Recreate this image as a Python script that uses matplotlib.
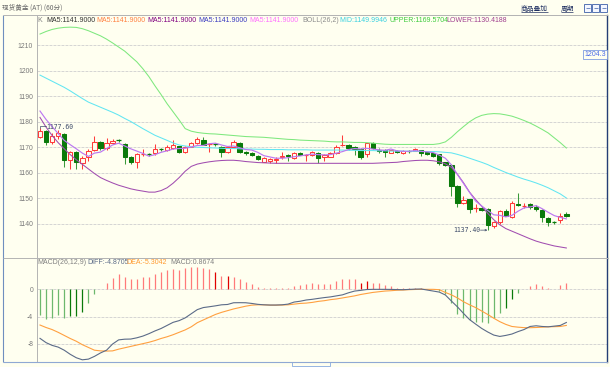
import matplotlib
matplotlib.use("Agg")
import matplotlib.pyplot as plt
from matplotlib.lines import Line2D
from matplotlib.patches import Rectangle

plt.rcParams['font.family'] = ['Liberation Sans', 'Noto Sans CJK SC', 'DejaVu Sans']

W, H = 610, 367
BG = "#FFFFF0"

# ---------------- data ----------------
price_ticks = [1140, 1150, 1160, 1170, 1180, 1190, 1200, 1210]
macd_ticks = [0, -4, -8]

opens = [1174.0, 1176.4, 1172.1, 1174.2, 1175.0, 1164.9, 1168.0, 1163.6, 1166.0, 1168.8,
         1171.8, 1169.5, 1171.4, 1172.7, 1171.2, 1166.2, 1164.2, 1167.2, 1167.3, 1167.5,
         1169.2, 1168.8, 1169.6, 1170.2, 1168.2, 1170.1, 1171.4, 1172.7, 1171.0, 1171.2,
         1170.0, 1168.0, 1170.1, 1171.5, 1168.0, 1167.6, 1166.6, 1164.3, 1164.5, 1164.8,
         1166.0, 1166.8, 1165.8, 1167.6, 1166.7, 1166.9, 1167.5, 1166.2, 1166.2, 1167.5,
         1170.6, 1170.9, 1170.1, 1169.2, 1167.1, 1171.4, 1169.0, 1168.8, 1167.8, 1168.5,
         1167.5, 1168.6, 1168.6, 1168.8, 1168.0, 1167.5, 1167.1, 1164.0, 1163.0, 1154.7,
         1148.2, 1149.6, 1145.8, 1146.0, 1145.7, 1139.1, 1140.5, 1145.0, 1142.7, 1147.8,
         1146.9, 1147.6, 1146.6, 1145.3, 1142.3, 1140.5, 1141.4, 1143.6]
highs = [1177.6, 1176.6, 1175.4, 1176.7, 1175.3, 1168.5, 1168.3, 1166.3, 1169.2, 1174.3,
         1172.2, 1173.4, 1173.3, 1173.0, 1171.5, 1166.5, 1167.8, 1169.2, 1167.8, 1171.2,
         1169.5, 1170.8, 1172.7, 1170.5, 1170.2, 1171.9, 1174.0, 1173.8, 1171.4, 1171.5,
         1170.3, 1170.3, 1172.7, 1171.8, 1168.3, 1168.0, 1166.8, 1166.0, 1165.8, 1166.0,
         1168.2, 1167.4, 1168.0, 1168.0, 1167.3, 1168.3, 1168.0, 1167.2, 1168.2, 1170.8,
         1174.7, 1171.0, 1170.5, 1169.6, 1171.6, 1172.1, 1169.5, 1169.2, 1169.0, 1168.8,
         1168.8, 1169.0, 1169.6, 1169.0, 1168.3, 1167.8, 1167.3, 1164.3, 1163.3, 1155.0,
         1150.8, 1149.8, 1147.6, 1146.6, 1146.0, 1141.0, 1145.3, 1145.5, 1149.0, 1152.1,
         1148.0, 1148.0, 1147.2, 1145.5, 1142.6, 1140.8, 1144.0, 1144.6]
lows = [1173.5, 1170.9, 1171.0, 1173.0, 1162.3, 1161.3, 1161.3, 1161.5, 1164.6, 1168.5,
        1169.0, 1169.0, 1171.0, 1172.0, 1163.2, 1163.2, 1161.6, 1166.4, 1166.3, 1167.0,
        1168.5, 1168.3, 1169.3, 1167.7, 1167.8, 1169.9, 1171.0, 1170.6, 1168.0, 1170.5,
        1166.0, 1167.6, 1169.8, 1167.6, 1167.0, 1166.3, 1164.8, 1164.0, 1163.8, 1163.6,
        1165.3, 1164.6, 1165.4, 1166.8, 1164.7, 1166.5, 1163.6, 1164.6, 1166.0, 1167.2,
        1170.5, 1168.8, 1166.9, 1165.3, 1166.0, 1169.2, 1167.8, 1166.2, 1167.6, 1167.7,
        1167.2, 1167.8, 1168.4, 1166.5, 1166.9, 1166.0, 1163.0, 1162.5, 1150.8, 1146.4,
        1147.8, 1144.0, 1144.6, 1145.0, 1137.4, 1138.1, 1140.0, 1142.8, 1142.3, 1146.8,
        1146.0, 1145.8, 1145.0, 1140.7, 1139.1, 1140.0, 1140.3, 1142.5]
closes = [1176.4, 1172.1, 1174.4, 1175.3, 1164.9, 1168.0, 1164.0, 1165.8, 1168.6, 1171.8,
          1169.6, 1171.4, 1172.4, 1172.5, 1166.0, 1164.2, 1167.1, 1167.5, 1167.0, 1169.1,
          1168.9, 1170.0, 1170.8, 1168.0, 1169.9, 1171.4, 1173.1, 1170.8, 1171.2, 1170.9,
          1168.0, 1169.9, 1171.8, 1168.0, 1167.5, 1166.7, 1165.3, 1165.5, 1165.3, 1165.2,
          1166.5, 1166.4, 1167.5, 1167.0, 1167.0, 1168.0, 1165.6, 1166.9, 1167.5, 1169.9,
          1170.9, 1169.7, 1169.2, 1166.2, 1171.4, 1169.5, 1168.4, 1168.0, 1168.8, 1168.0,
          1168.4, 1168.4, 1169.2, 1167.5, 1167.2, 1166.5, 1163.6, 1163.0, 1154.7, 1148.2,
          1149.2, 1145.7, 1146.1, 1145.3, 1139.4, 1140.5, 1144.9, 1143.1, 1148.2, 1147.3,
          1147.1, 1146.6, 1145.7, 1142.4, 1140.4, 1140.3, 1143.0, 1143.0]

ma5 = [1184.1, 1180.8, 1178.0, 1175.3, 1172.6, 1170.9, 1169.3, 1167.6, 1166.3, 1167.6,
       1168.0, 1169.4, 1170.8, 1171.5, 1170.4, 1169.3, 1168.4, 1167.5, 1166.4, 1167.0,
       1167.9, 1168.5, 1169.2, 1169.4, 1169.5, 1170.0, 1170.6, 1170.6, 1171.3, 1171.5,
       1170.8, 1170.2, 1170.4, 1169.7, 1169.0, 1168.8, 1167.9, 1166.6, 1166.1, 1165.6,
       1165.6, 1165.8, 1166.2, 1166.5, 1166.9, 1167.2, 1167.0, 1166.9, 1167.0, 1167.6,
       1168.2, 1169.0, 1169.4, 1169.2, 1169.5, 1169.2, 1168.9, 1168.7, 1169.2, 1168.5,
       1168.3, 1168.3, 1168.6, 1168.3, 1168.1, 1167.8, 1166.8, 1165.6, 1163.0, 1159.2,
       1155.7, 1152.2, 1148.8, 1146.9, 1145.1, 1143.4, 1143.2, 1142.6, 1143.2, 1144.8,
       1146.1, 1146.5, 1147.0, 1145.8, 1144.4, 1143.1, 1142.4, 1141.8]
boll_upper = [1214.3, 1215.3, 1216.1, 1216.6, 1216.9, 1217.0, 1216.9, 1216.4, 1215.6, 1214.6,
              1213.6, 1212.3, 1210.8, 1209.2, 1207.6, 1205.5, 1203.4, 1200.7, 1197.6, 1194.0,
              1190.6, 1187.0, 1183.8, 1180.6, 1177.2, 1176.2, 1175.7, 1175.4, 1175.2, 1175.1,
              1174.9, 1174.7, 1174.5, 1174.3, 1174.1, 1174.0, 1173.9, 1173.8, 1173.6, 1173.4,
              1173.2, 1173.0, 1172.9, 1172.7, 1172.6, 1172.5, 1172.4, 1172.3, 1172.1, 1172.0,
              1172.0, 1171.9, 1171.8, 1171.8, 1171.7, 1171.5, 1171.3, 1171.1, 1171.0, 1171.0,
              1171.0, 1171.0, 1171.0, 1171.0, 1171.0, 1171.0, 1171.3, 1172.0, 1173.8, 1176.0,
              1178.0, 1179.9, 1181.4, 1182.4, 1182.9, 1183.1, 1183.0, 1182.6, 1182.1, 1181.3,
              1180.4, 1179.4, 1178.2, 1176.9, 1175.5, 1173.6, 1171.7, 1169.6]
boll_mid = [1198.2, 1197.0, 1195.8, 1194.6, 1193.4, 1192.0, 1190.5, 1189.0, 1187.6, 1186.6,
            1185.6, 1184.6, 1183.6, 1182.5, 1181.2, 1180.0, 1178.6, 1177.2, 1175.9, 1174.6,
            1173.6, 1172.6, 1171.6, 1170.8, 1170.4, 1170.1, 1169.9, 1169.8, 1169.7, 1169.6,
            1169.5, 1169.4, 1169.4, 1169.3, 1169.2, 1169.2, 1169.1, 1169.1, 1169.0, 1169.0,
            1169.0, 1168.9, 1168.9, 1168.9, 1168.9, 1168.8, 1168.8, 1168.8, 1168.8, 1168.8,
            1168.8, 1168.7, 1168.7, 1168.6, 1168.6, 1168.6, 1168.5, 1168.5, 1168.4, 1168.4,
            1168.4, 1168.3, 1168.3, 1168.3, 1168.2, 1168.2, 1168.1, 1167.9, 1167.7, 1167.1,
            1166.4, 1165.6, 1164.8, 1164.0, 1163.1, 1162.0, 1161.0, 1160.0, 1159.1, 1158.2,
            1157.4, 1156.7, 1155.9, 1155.0, 1154.0, 1152.8, 1151.6, 1150.0]
boll_lower = [1181.6, 1177.8, 1174.5, 1171.7, 1169.3, 1167.0, 1165.0, 1163.2, 1161.4, 1159.6,
              1158.0, 1156.9, 1155.9, 1155.0, 1154.3, 1153.6, 1153.1, 1152.7, 1152.3, 1152.3,
              1152.9, 1154.0, 1155.8, 1158.0, 1160.5, 1162.4, 1163.3, 1163.8, 1164.2, 1164.5,
              1164.7, 1164.8, 1164.8, 1164.6, 1164.3, 1164.1, 1163.9, 1163.8, 1163.7, 1163.6,
              1163.6, 1163.6, 1163.6, 1163.6, 1163.6, 1163.6, 1163.6, 1163.6, 1163.6, 1163.6,
              1163.6, 1163.6, 1163.6, 1163.6, 1163.6, 1163.6, 1163.7, 1163.8, 1163.9, 1164.0,
              1164.3, 1164.5, 1164.7, 1164.8, 1164.8, 1164.6, 1164.2, 1163.4, 1162.0, 1159.3,
              1156.0, 1152.3, 1149.4, 1146.8, 1144.0, 1141.5, 1139.5, 1138.0, 1137.0, 1136.0,
              1135.0, 1134.0, 1133.1, 1132.4, 1131.8, 1131.2, 1130.8, 1130.4]

macd_hist = [-3.79, -4.42, -4.17, -3.79, -4.27, -3.93, -3.93, -3.30, -2.09, -0.78,
             0.05, 0.83, 1.65, 2.18, 1.80, 1.46, 1.46, 1.70, 1.80, 2.18,
             2.52, 2.77, 2.91, 2.77, 3.01, 3.25, 3.16, 3.01, 2.91, 2.43,
             1.94, 1.89, 1.80, 1.46, 1.07, 0.73, 0.34, 0.10, 0.10, 0.10,
             0.10, 0.19, 0.49, 0.58, 0.68, 0.83, 0.68, 0.68, 0.73, 1.17,
             1.46, 1.46, 1.46, 0.83, 1.17, 0.83, 0.83, 0.58, 0.49, 0.19,
             0.10, 0.10, 0.10, 0.10, 0.05, -0.05, -0.29, -0.78, -2.09, -3.69,
             -4.17, -4.51, -4.85, -4.76, -4.90, -4.27, -3.54, -2.82, -1.50, -0.63,
             0.05, 0.44, 0.68, 0.49, 0.10, 0.05, 0.58, 0.87]
macd_dark = [5, 6, 7, 29, 31, 53, 54, 77, 78]
diff = [-7.18, -7.8, -8.2, -8.45, -8.9, -9.5, -10.0, -10.3, -10.2, -9.8,
        -9.3, -8.9, -8.0, -7.4, -7.3, -7.28, -7.1, -6.85, -6.5, -6.1,
        -5.75, -5.3, -4.85, -4.6, -4.2, -3.6, -3.0, -2.7, -2.58, -2.45,
        -2.3, -2.25, -2.0, -1.99, -2.0, -2.1, -2.23, -2.3, -2.33, -2.33,
        -2.3, -2.2, -1.9, -1.78, -1.6, -1.5, -1.37, -1.25, -1.15, -1.0,
        -0.85, -0.55, -0.3, -0.2, -0.08, -0.05, -0.05, -0.05, -0.06, -0.08,
        -0.1, -0.06, -0.02, 0.0, -0.15, -0.3, -0.45, -0.87, -1.75, -2.6,
        -3.55, -4.45, -5.1, -5.73, -6.25, -6.7, -6.9, -6.75, -6.55, -6.2,
        -5.9, -5.45, -5.35, -5.45, -5.5, -5.4, -5.3, -4.87]
dea = [-5.24, -5.6, -5.9, -6.3, -6.75, -7.2, -7.6, -8.1, -8.5, -8.9,
       -9.0, -9.03, -9.0, -8.75, -8.55, -8.35, -8.15, -7.95, -7.75, -7.5,
       -7.2, -6.95, -6.65, -6.3, -5.95, -5.5, -4.9, -4.5, -4.1, -3.7,
       -3.4, -3.15, -2.9, -2.7, -2.5, -2.35, -2.3, -2.3, -2.35, -2.35,
       -2.33, -2.3, -2.2, -2.1, -2.05, -1.95, -1.8, -1.7, -1.55, -1.45,
       -1.3, -1.15, -1.0, -0.8, -0.65, -0.5, -0.4, -0.3, -0.25, -0.18,
       -0.15, -0.1, -0.07, -0.05, -0.05, -0.05, -0.1, -0.5, -0.85, -1.3,
       -1.85, -2.3, -2.7, -3.2, -3.7, -4.25, -4.75, -5.15, -5.45, -5.55,
       -5.62, -5.63, -5.6, -5.55, -5.5, -5.48, -5.45, -5.30]

high_label = "1177.60"
low_label = "1137.40"

# ---------------- figure ----------------
fig = plt.figure(figsize=(W / 100, H / 100), dpi=100, facecolor=BG)


def fx(x):
    return x / W


def fy(y):
    return 1 - y / H


def fline(x0, y0, x1, y1, color, lw=0.72, z=10):
    fig.add_artist(Line2D([fx(x0), fx(x1)], [fy(y0), fy(y1)], transform=fig.transFigure,
                          color=color, lw=lw, zorder=z, solid_capstyle='butt'))


L, R = 36.7, 607.0
MAIN_TOP, MAIN_BOT = 15.0, 258.0
MACD_TOP, MACD_BOT = 258.0, 362.0

ax = fig.add_axes([fx(L), fy(MAIN_BOT), (R - L) / W, (MAIN_BOT - MAIN_TOP) / H], facecolor=BG)
axm = fig.add_axes([fx(L), fy(MACD_BOT), (R - L) / W, (MACD_BOT - MACD_TOP) / H], facecolor=BG)

# pixel -> data calibration (x index 0 at 40 px, 6.05 px per bar)
x_lo = (L - 40) / 6.05
x_hi = (R - 40) / 6.05
ax.set_xlim(x_lo, x_hi)
axm.set_xlim(x_lo, x_hi)
ax.set_ylim(1210 - (MAIN_BOT - 45) / 2.55, 1210 - (MAIN_TOP - 45) / 2.55)
axm.set_ylim((289 - MACD_BOT) / 6.875, (289 - MACD_TOP) / 6.875)

GRID = '#CFCFCF'
for t in price_ticks:
    ax.axhline(t, color=GRID, lw=0.6, dashes=(3.5, 1.3), zorder=1)
for t in macd_ticks:
    axm.axhline(t, color=GRID, lw=0.6, dashes=(3.5, 1.3), zorder=1)

# candles
RED = '#FF3B3B'
GREEN = '#0A7A0A'
GREEN_WICK = '#3A9A3A'
n = len(closes)
for i in range(n):
    o, h, l, c = opens[i], highs[i], lows[i], closes[i]
    up = c >= o
    col = RED if up else GREEN
    ax.vlines(i, l, h, color=RED if up else GREEN_WICK, lw=0.75, zorder=3)
    lo, hi = min(o, c), max(o, c)
    if hi - lo < 0.3:
        ax.hlines((o + c) / 2, i - 0.36, i + 0.36, color=col, lw=0.9, zorder=4)
    else:
        ax.add_patch(Rectangle((i - 0.36, lo), 0.72, hi - lo, facecolor=BG if up else GREEN,
                               edgecolor=col, lw=0.75, zorder=4))

xs = list(range(n))
ax.plot(xs, boll_upper, color='#7EE87E', lw=0.75, zorder=5)
ax.plot(xs, boll_mid, color='#62E6F2', lw=0.75, zorder=5)
ax.plot(xs, boll_lower, color='#A14DB0', lw=0.75, zorder=5)
ax.plot(xs, ma5, color='#BC78F0', lw=0.85, zorder=6)

# high / low annotations
i_hi = highs.index(max(highs[:20]))
i_lo = lows.index(min(lows))
ax.text(i_hi + 1.05, highs[i_hi] + 0.35, high_label, fontsize=4.7, color='#3E4C6A',
        family='DejaVu Sans Mono', va='center', ha='left', zorder=7)
ax.plot([i_hi, i_hi, i_hi + 1.0], [highs[i_hi], highs[i_hi] + 0.6, highs[i_hi] + 0.6],
        color='#3E4C6A', lw=0.5, zorder=7)
ax.text(i_lo - 1.25, lows[i_lo], low_label, fontsize=4.7, color='#3E4C6A',
        family='DejaVu Sans Mono', va='center', ha='right', zorder=7)
ax.annotate('', xy=(i_lo - 0.05, lows[i_lo]), xytext=(i_lo - 1.2, lows[i_lo]),
            arrowprops=dict(arrowstyle='->', color='#3E4C6A', lw=0.5,
                            shrinkA=0, shrinkB=0, mutation_scale=3), zorder=7)

# MACD histogram
for i, v in enumerate(macd_hist):
    if v >= 0:
        colr = '#E00000' if i in macd_dark else '#FF7A7A'
    else:
        colr = '#0A7A0A' if i in macd_dark else '#6DB86D'
    axm.vlines(i, 0, v, color=colr, lw=0.9, zorder=3)
axm.plot(xs, dea, color='#FFA040', lw=0.8, zorder=4)
axm.plot(xs, diff, color='#5B6B88', lw=0.8, zorder=5)

# ticks and spines
for a, ticks in ((ax, price_ticks), (axm, macd_ticks)):
    a.set_xticks([])
    a.set_yticks(ticks)
    a.set_yticklabels([str(t) for t in ticks])
    a.tick_params(axis='y', length=0, pad=2.6, labelsize=4.9, labelcolor='#7A7A7A')
    for s in ('left', 'top', 'bottom'):
        a.spines[s].set_color('#B4B4B4')
        a.spines[s].set_linewidth(0.7)
    a.spines['right'].set_color('#243F75')
    a.spines['right'].set_linewidth(1.0)

# frame lines outside the axes
fline(3.3, MAIN_TOP, 3.3, MACD_BOT, '#6F8FBF', lw=0.8)
fline(3.3, MAIN_TOP, R, MAIN_TOP, '#B4B4B4', lw=0.7)
fline(3.3, MAIN_BOT, R, MAIN_BOT, '#B4B4B4', lw=0.7)
fline(3.3, MACD_BOT, R, MACD_BOT, '#8FA8D4', lw=0.8)
fig.add_artist(Rectangle((fx(292), fy(366)), (330 - 292) / W, 4.5 / H, transform=fig.transFigure,
                         facecolor='none', edgecolor='#86A9E0', lw=0.6))

# title bar
fig.text(fx(2.5), fy(8), '现货黄金 (AT) (60分)', fontsize=4.8, color='#6A6A6A', va='center',
         ha='left', family=['Noto Sans CJK SC', 'DejaVu Sans'])
for label, x0, x1 in (('商品叠加', 521, 548), ('周期', 561, 573)):
    fig.text(fx(x0), fy(8.5), label, fontsize=4.9, color='#1E2E60', va='center', ha='left',
             family=['Noto Sans CJK SC', 'DejaVu Sans'])
    fline(x0, 12.2, x1, 12.2, '#1E2E60', lw=0.5)
for k in range(3):
    x0 = 584 + k * 8
    fig.add_artist(Rectangle((fx(x0), fy(12)), 7 / W, 8 / H, transform=fig.transFigure,
                             facecolor='#F4F7FF', edgecolor='#3D5FA8', lw=0.6))
    fline(x0 + 1.5, 8, x0 + 5.5, 8, '#3D5FA8', lw=0.5)

# indicator header of main panel
header = [
    (37, 'K', '#808080'),
    (46, 'MA5:1141.9000', '#333333'),
    (96.7, 'MA5:1141.9000', '#FF8040'),
    (147.4, 'MA5:1141.9000', '#800080'),
    (198, 'MA5:1141.9000', '#3B3BC0'),
    (249.6, 'MA5:1141.9000', '#FF70FF'),
    (302.3, 'BOLL(26,2)', '#8C8C8C'),
    (339.3, 'MID:1149.9946', '#38D0E0'),
    (390, 'UPPER:1169.5704', '#3CCB3C'),
    (446.6, 'LOWER:1130.4188', '#A0408F'),
]
for x0, s, c in header:
    fig.text(fx(x0), fy(20.5), s, fontsize=5.0, color=c, va='center', ha='left')

macd_header = [
    (37.3, 'MACD(26,12,9)', '#808080'),
    (87.3, 'DIFF:-4.8705', '#5B6B88'),
    (126.7, 'DEA:-5.3042', '#FF9A30'),
    (170.7, 'MACD:0.8674', '#808080'),
]
for x0, s, c in macd_header:
    fig.text(fx(x0), fy(262.5), s, fontsize=5.0, color=c, va='center', ha='left')

# cursor price box at right edge
fig.text(fx(584.5), fy(54.5), '1204.3', fontsize=5.0, color='#4A6AE8', va='center', ha='left',
         bbox=dict(boxstyle='square,pad=0.15', facecolor=BG, edgecolor='#7E9CE0', lw=0.6))

fig.savefig('out.png', dpi=100, facecolor=BG)
